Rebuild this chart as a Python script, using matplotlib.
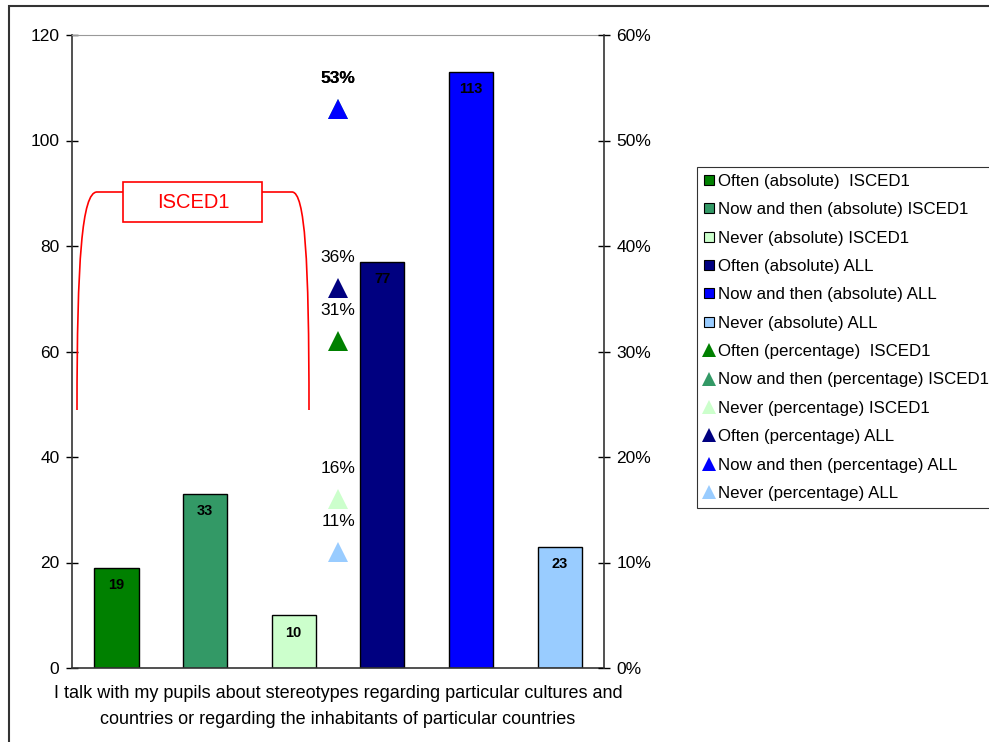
import matplotlib
matplotlib.use("Agg")
from matplotlib import pyplot as plt
from matplotlib import patches as patches
from matplotlib.path import Path
from matplotlib.lines import Line2D
from matplotlib.ticker import PercentFormatter

# data
series_names = ["Often (absolute)  ISCED1", "Now and then (absolute) ISCED1",
                "Never (absolute) ISCED1", "Often (absolute) ALL",
                "Now and then (absolute) ALL", "Never (absolute) ALL"]
absolute = [19, 33, 10, 77, 113, 23]
pct_names = ["Often (percentage)  ISCED1", "Now and then (percentage) ISCED1",
             "Never (percentage) ISCED1", "Often (percentage) ALL",
             "Now and then (percentage) ALL", "Never (percentage) ALL"]
percent = [0.31, 0.53, 0.16, 0.36, 0.53, 0.11]
pct_labels = ["31%", "53%", "16%", "36%", "53%", "11%"]
colors = ["#008000", "#339966", "#CCFFCC", "#000080", "#0000FF", "#99CCFF"]
category = "I talk with my pupils about stereotypes regarding particular cultures and\ncountries or regarding the inhabitants of particular countries"

W, H = 989, 742
plt.rcParams["font.family"] = ["Liberation Sans", "DejaVu Sans"]
plt.rcParams["font.size"] = 12.5

fig = plt.figure(figsize=(W/100, H/100), dpi=100)
ax = fig.add_axes([72/W, 1-668/H, 532/W, 633/H])

xs = list(range(len(absolute)))
for x, v, c in zip(xs, absolute, colors):
    ax.bar(x, v, width=0.5, color=c, edgecolor="black", linewidth=1, zorder=2)
    ax.annotate(str(v), (x, v), xytext=(0, -12.5), textcoords="offset points",
                ha="center", va="center", fontsize=10.5, fontweight="bold")

ax.set_xlim(-0.5, 5.5)
ax.set_ylim(0, 120)
ax.set_yticks(range(0, 121, 20))
ax.set_xticks([2.5])
ax.set_xticklabels([category], linespacing=1.7, fontsize=13)
ax.tick_params(axis="x", length=0, pad=12)
ax.tick_params(axis="y", direction="inout", length=8, width=1, pad=5,
               labelsize=12.5)
for s in ["left", "bottom"]:
    ax.spines[s].set_color("#333333")
    ax.spines[s].set_linewidth(1.2)
ax.spines["top"].set_color("#999999")
ax.spines["right"].set_visible(False)

ax2 = ax.twinx()
ax2.set_ylim(0, 0.6)
ax2.set_yticks([0, 0.1, 0.2, 0.3, 0.4, 0.5, 0.6])
ax2.yaxis.set_major_formatter(PercentFormatter(1.0, decimals=0))
ax2.tick_params(axis="y", direction="inout", length=8, width=1, pad=5,
                labelsize=12.5)
ax2.spines["right"].set_color("#333333")
ax2.spines["right"].set_linewidth(1.2)
for s in ["left", "top", "bottom"]:
    ax2.spines[s].set_visible(False)

for p, lab, c in zip(percent, pct_labels, colors):
    ax2.plot([2.5], [p], marker="^", markersize=14, color=c,
             markeredgewidth=0, linestyle="none", zorder=3)
    ax2.annotate(lab, (2.5, p), xytext=(0, 22), textcoords="offset points",
                 ha="center", va="center", fontsize=12.5,
                 fontweight="bold" if lab == "53%" else "normal")

# legend
handles = []
for c in colors:
    handles.append(Line2D([], [], marker="s", markersize=7.5, markerfacecolor=c,
                          markeredgecolor="black", markeredgewidth=0.8, linestyle="none"))
for c in colors:
    handles.append(Line2D([], [], marker="^", markersize=10, markerfacecolor=c,
                          markeredgewidth=0, linestyle="none"))
leg = fig.legend(handles, series_names + pct_names, loc="upper left",
                 bbox_to_anchor=(697/W, 1-167/H), borderaxespad=0,
                 frameon=True, fancybox=False, edgecolor="black",
                 fontsize=12.2, handlelength=0.6, handletextpad=0.25,
                 labelspacing=0.79, borderpad=0.4)
leg.get_frame().set_linewidth(0.8)


# ISCED1 bracket annotation (pixel coordinates of the figure)
def fp(x, y):
    return (x / W, 1 - y / H)


verts = [fp(77, 410), fp(77, 260), fp(82, 192), fp(97, 192), fp(123, 192),
         fp(262, 192), fp(292, 192), fp(305, 192), fp(309, 260), fp(309, 410)]
codes = [Path.MOVETO, Path.CURVE4, Path.CURVE4, Path.CURVE4, Path.LINETO,
         Path.MOVETO, Path.LINETO, Path.CURVE4, Path.CURVE4, Path.CURVE4]
fig.add_artist(patches.PathPatch(Path(verts, codes), facecolor="none",
                                 edgecolor="red", linewidth=1.2,
                                 transform=fig.transFigure))
fig.add_artist(patches.Rectangle(fp(123, 222), 139/W, 40/H, facecolor="white",
                                 edgecolor="red", linewidth=1.2,
                                 transform=fig.transFigure))
fig.text(193/W, 1-202/H, "ISCED1", color="red", fontsize=14.5,
         family=["Liberation Sans Narrow", "Liberation Sans"],
         ha="center", va="center")

# outer chart border
fig.add_artist(patches.Rectangle(fp(9, 760), 1100/W, 754/H, facecolor="none",
                                 edgecolor="#333333", linewidth=1.5,
                                 transform=fig.transFigure))

fig.savefig("out.png", dpi=100)
